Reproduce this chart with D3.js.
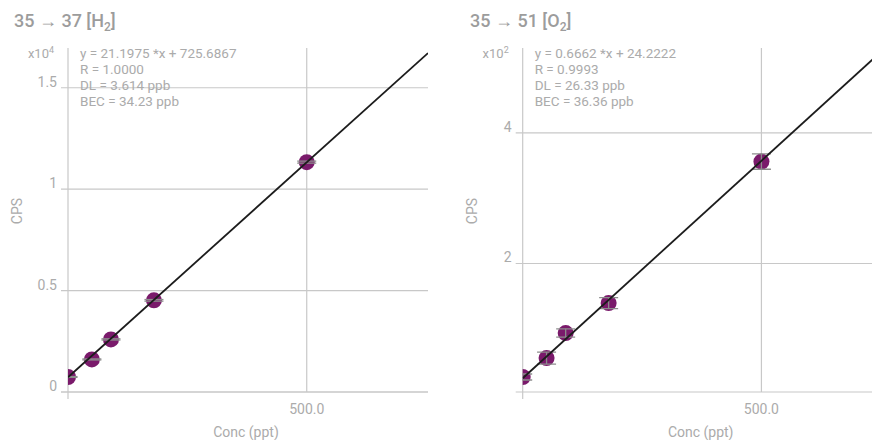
<!DOCTYPE html>
<html>
<head>
<meta charset="utf-8">
<script src="https://cdn.jsdelivr.net/npm/d3@7"></script>
<style>
  html, body { margin: 0; padding: 0; background: #fff; }
  svg { display: block; font-family: Roboto, "Noto Sans", sans-serif; }
</style>
</head>
<body>
<svg id="chart" width="872" height="440"></svg>
<script>
// ---------- data ----------
const concH2 = [0, 50, 90, 180, 500];
const cpsH2 = [740, 1605, 2593, 4519, 11333];
const errH2 = [20, 25, 30, 40, 50];
const slopeH2 = 21.1975;
const interceptH2 = 725.6867;
const statsH2 = ["y = 21.1975 *x + 725.6867", "R = 1.0000", "DL = 3.614 ppb", "BEC = 34.23 ppb"];
const yTicksH2 = [0, 5000, 10000, 15000];
const yTickLabelsH2 = ["0", "0.5", "1", "1.5"];
const yExpH2 = "4";

const concO2 = [0, 50, 90, 180, 500];
const cpsO2 = [26.2, 55.2, 93.5, 139.4, 356.1];
const errO2 = [4.6, 9.2, 6.4, 8.4, 11.8];
const slopeO2 = 0.6662;
const interceptO2 = 24.2222;
const statsO2 = ["y = 0.6662 *x + 24.2222", "R = 0.9993", "DL = 26.33 ppb", "BEC = 36.36 ppb"];
const yTicksO2 = [200, 400];
const yTickLabelsO2 = ["2", "4"];
const yExpO2 = "2";

const xTicks = [500];
const xTickLabels = ["500.0"];
const xLabel = "Conc (ppt)";
const yLabel = "CPS";

// ---------- layout ----------
const svg = d3.select("#chart");
const GRID = "#c8c8c8";
const TXT = "#ababab";
const DOT = "#7a1a6b";

const panels = [
  { id: "h2", left: 68, titleX: 14, mass: "35 \u2192 37 [", gas: "H", sub: "2",
    conc: concH2, cps: cpsH2, err: errH2, slope: slopeH2, intercept: interceptH2,
    stats: statsH2, yTicks: yTicksH2, yTickLabels: yTickLabelsH2, yExp: yExpH2,
    yDomain: [0, 16960], xDomain: [0, 754] },
  { id: "o2", left: 522.7, titleX: 470, mass: "35 \u2192 51 [", gas: "O", sub: "2",
    conc: concO2, cps: cpsO2, err: errO2, slope: slopeO2, intercept: interceptO2,
    stats: statsO2, yTicks: yTicksO2, yTickLabels: yTickLabelsO2, yExp: yExpO2,
    yDomain: [3.2, 530], xDomain: [0, 754] }
];

const plotTop = 48, plotBottom = 392, plotWidth = 360;

panels.forEach(p => {
  const x = d3.scaleLinear().domain(p.xDomain).range([p.left, p.left + plotWidth]);
  const y = d3.scaleLinear().domain(p.yDomain).range([plotBottom, plotTop]);
  const g = svg.append("g");

  // title
  const t = g.append("text").attr("x", p.titleX).attr("y", 27)
    .attr("fill", "#9c9c9c").attr("font-size", 18).attr("font-weight", 500);
  t.append("tspan").text(p.mass + p.gas);
  t.append("tspan").attr("font-size", 12).attr("dy", 4).text(p.sub);
  t.append("tspan").attr("dy", -4).text("]");

  // horizontal gridlines (incl. ticks extending left)
  g.selectAll(".hg").data(p.yTicks).join("line")
    .attr("x1", p.left - 7).attr("x2", p.left + plotWidth)
    .attr("y1", d => y(d)).attr("y2", d => y(d))
    .attr("stroke", GRID).attr("stroke-width", 1.2);

  // x-axis baseline
  g.append("line").attr("x1", p.left - 7).attr("x2", p.left + plotWidth)
    .attr("y1", plotBottom).attr("y2", plotBottom)
    .attr("stroke", GRID).attr("stroke-width", 1.2);

  // vertical gridlines
  g.selectAll(".vg").data(xTicks).join("line")
    .attr("x1", d => x(d)).attr("x2", d => x(d))
    .attr("y1", plotTop).attr("y2", plotBottom)
    .attr("stroke", GRID).attr("stroke-width", 1.2);

  // y-axis line
  g.append("line").attr("x1", p.left).attr("x2", p.left)
    .attr("y1", plotTop).attr("y2", plotBottom + 7)
    .attr("stroke", GRID).attr("stroke-width", 1.2);

  // y tick labels
  g.selectAll(".yl").data(p.yTicks).join("text")
    .attr("x", p.left - 11).attr("y", d => y(d) - 1)
    .attr("text-anchor", "end").attr("fill", TXT).attr("font-size", 14)
    .text((d, i) => p.yTickLabels[i]);

  // exponent label
  const e = g.append("text").attr("x", p.left - 14).attr("y", 58)
    .attr("text-anchor", "end").attr("fill", TXT).attr("font-size", 13);
  e.append("tspan").text("x10");
  e.append("tspan").attr("font-size", 9).attr("dy", -5).text(p.yExp);

  // x tick labels
  g.selectAll(".xl").data(xTicks).join("text")
    .attr("x", d => x(d)).attr("y", 414)
    .attr("text-anchor", "middle").attr("fill", TXT).attr("font-size", 14)
    .text((d, i) => xTickLabels[i]);

  // axis titles
  g.append("text").attr("x", p.left + plotWidth / 2 - 2).attr("y", 437)
    .attr("text-anchor", "middle").attr("fill", TXT).attr("font-size", 14)
    .text(xLabel);
  g.append("text")
    .attr("transform", `translate(${p.left - 46},211) rotate(-90)`)
    .attr("text-anchor", "middle").attr("fill", TXT).attr("font-size", 14)
    .text(yLabel);

  // stats text
  g.selectAll(".st").data(p.stats).join("text")
    .attr("x", p.left + 12).attr("y", (d, i) => 58 + i * 16)
    .attr("fill", TXT).attr("font-size", 13.5)
    .text(d => d);

  // clip
  const clipId = "clip-" + p.id;
  svg.append("clipPath").attr("id", clipId).append("rect")
    .attr("x", p.left).attr("y", plotTop).attr("width", plotWidth).attr("height", plotBottom - plotTop);
  const pg = g.append("g").attr("clip-path", `url(#${clipId})`);

  const pts = p.conc.map((c, i) => ({ c, v: p.cps[i], e: p.err[i] }));

  pg.selectAll("circle").data(pts).join("circle")
    .attr("cx", d => x(d.c)).attr("cy", d => y(d.v)).attr("r", 8)
    .attr("fill", DOT);

  const eb = pg.selectAll(".eb").data(pts).join("g");
  eb.append("line")
    .attr("x1", d => x(d.c)).attr("x2", d => x(d.c))
    .attr("y1", d => y(d.v - d.e)).attr("y2", d => y(d.v + d.e))
    .attr("stroke", "#8c8c8c").attr("stroke-width", 1.3);
  eb.append("line")
    .attr("x1", d => x(d.c) - 9.5).attr("x2", d => x(d.c) + 9.5)
    .attr("y1", d => y(d.v - d.e)).attr("y2", d => y(d.v - d.e))
    .attr("stroke", "#8c8c8c").attr("stroke-width", 1.3);
  eb.append("line")
    .attr("x1", d => x(d.c) - 9.5).attr("x2", d => x(d.c) + 9.5)
    .attr("y1", d => y(d.v + d.e)).attr("y2", d => y(d.v + d.e))
    .attr("stroke", "#8c8c8c").attr("stroke-width", 1.3);

  // regression line
  const fit = p.xDomain.map(c => [c, p.slope * c + p.intercept]);
  pg.append("path").datum(fit)
    .attr("d", d3.line().x(d => x(d[0])).y(d => y(d[1])))
    .attr("fill", "none").attr("stroke", "#1c1c1c").attr("stroke-width", 1.8);
});
</script>
</body>
</html>
